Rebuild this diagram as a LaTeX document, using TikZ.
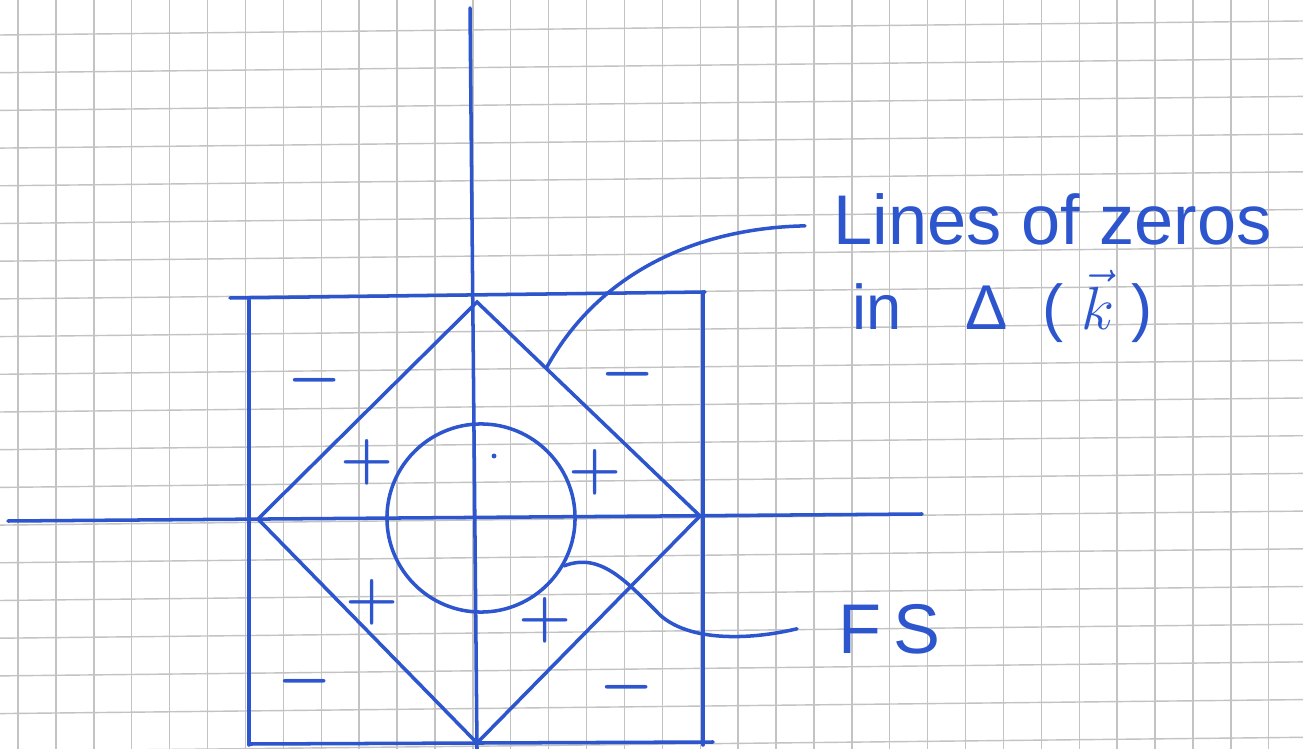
\documentclass[tikz,border=0pt]{standalone}
\usepackage{fontspec}
\setmainfont{Liberation Sans}
\usepackage{tikz}
\usetikzlibrary{positioning,calc}
\definecolor{penblue}{RGB}{45,85,205}
\definecolor{gridgray}{RGB}{195,195,195}

\begin{document}
\begin{tikzpicture}[x=0.01cm, y=-0.01cm,
    pen/.style={draw=penblue, line width=1pt, line cap=round},
    gridline/.style={draw=gridgray, line width=0.4pt},
    sign/.style={text=penblue, font=\fontsize{18}{18}\selectfont\boldmath, inner sep=0pt},
    note/.style={text=penblue, font=\fontsize{20}{22}\selectfont, inner sep=0pt, anchor=base west}
]

% Paper
\fill[white] (0,0) rectangle (1303,749);
\useasboundingbox (0,0) rectangle (1303,749);
\foreach \i in {0,...,33} \draw[gridline] (18+37.9*\i,0) -- (18+37.9*\i,749);
\foreach \j in {0,...,19} \draw[gridline] (0,35+37.7*\j) -- (1303,21+37.7*\j);

% Axes
\draw[pen] (8,521) -- (922,514);
\draw[pen] (470,8) -- (477,749);

% Square
\draw[pen] (230,298) -- (705,292);
\draw[pen] (249,300) -- (249,745);
\draw[pen] (703,292) -- (703,745);
\draw[pen] (250,744) -- (713,742);

% Diamond
\coordinate (dl) at (258,519);
\coordinate (dt) at (477,302);
\coordinate (dr) at (700,516);
\coordinate (db) at (477,743);
\draw[pen] (dl) -- (dt) -- (dr) -- (db) -- cycle;

% Fermi surface
\node[circle, pen, minimum size=1.88cm, inner sep=0pt] (fermi) at (481,518) {};
\fill[penblue] (494,456) circle (0.7pt);

% Signs
\node[sign] (m1) at (315,380) {$-$};
\node[sign] (m2) at (628,374) {$-$};
\node[sign] (m3) at (305,681) {$-$};
\node[sign] (m4) at (627,687) {$-$};
\node[sign] (p1) at (367,462) {$+$};
\node[sign] (p2) at (595,472) {$+$};
\node[sign] (p3) at (372,602) {$+$};
\node[sign] (p4) at (545,620) {$+$};

% Labels
\node[note] (zeros) at (833,245) {Lines of zeros};
\node[note, font=\fontsize{18}{20}\selectfont] (delta) at (852,330) {in\quad Δ\;\;(\;$\vec{k}$\;)};
\node[note] (fs) at (838,653) {F\,S};

% Leaders
\draw[pen] ($(dt)!0.31!(dr)$) .. controls (600,270) and (700,228) .. ($(zeros.west)+(-28,6)$);
\draw[pen] (fermi.-30) .. controls (600,552) and (625,580) .. (660,615)
    .. controls (690,642) and (750,640) .. ($(fs.west)+(-41,0)$);

\end{tikzpicture}
\end{document}
